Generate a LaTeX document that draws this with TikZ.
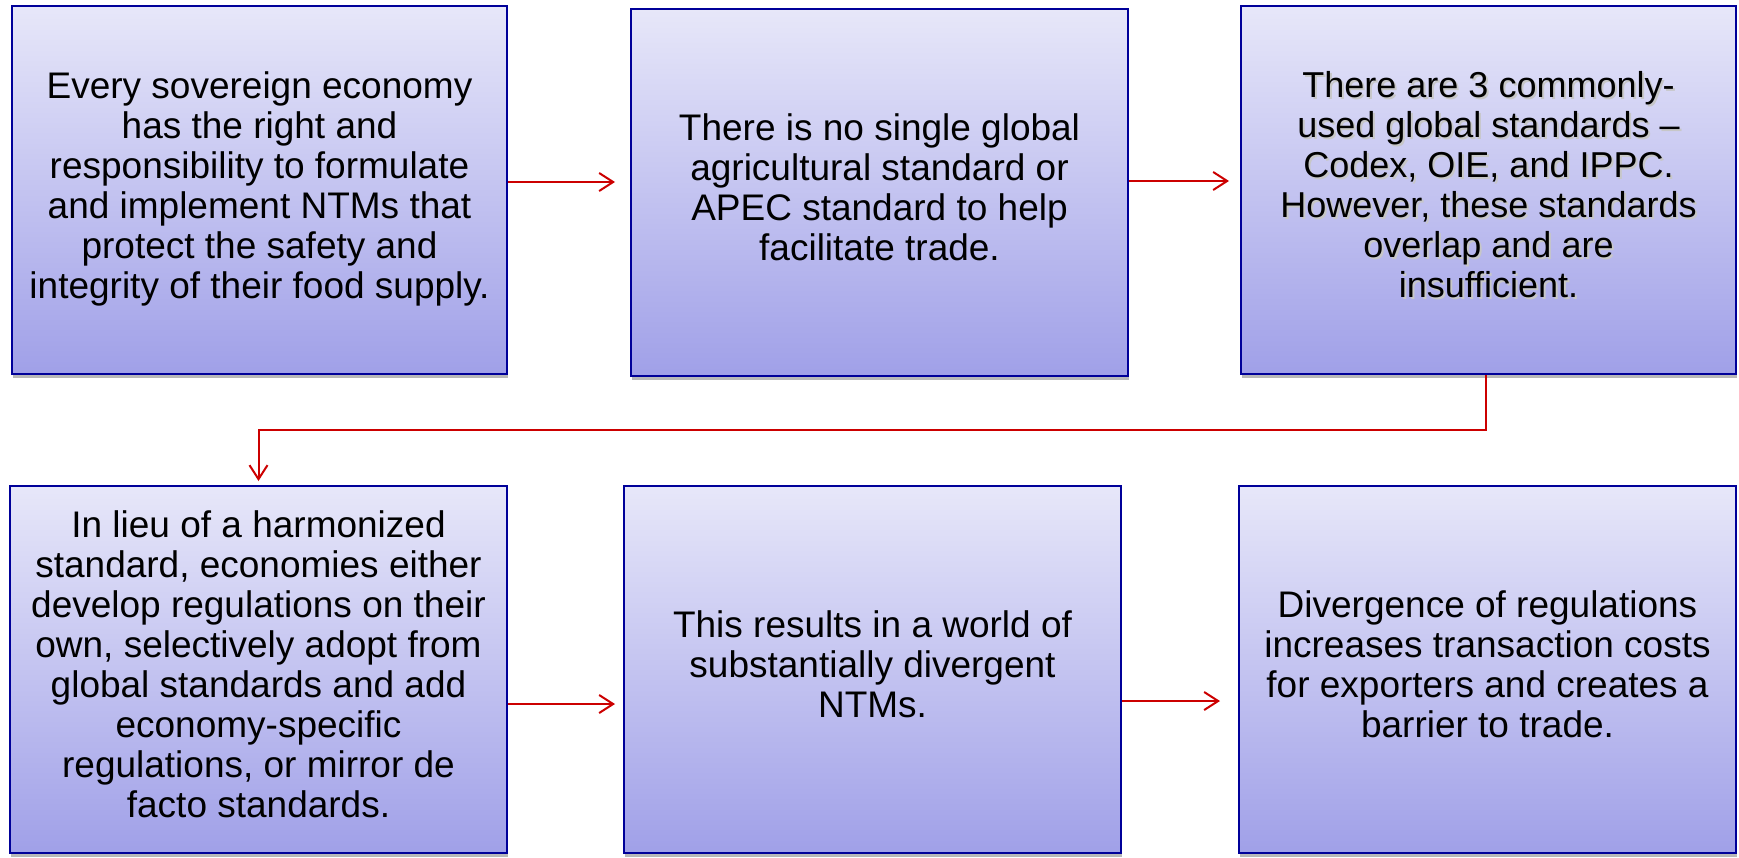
\documentclass[tikz,border=0pt]{standalone}
\usepackage{fontspec}
\setmainfont{Liberation Sans}
\usetikzlibrary{arrows.meta,shadows}
\definecolor{boxtop}{RGB}{231,231,249}
\definecolor{boxbot}{RGB}{160,160,232}
\definecolor{boxline}{RGB}{0,0,153}
\definecolor{arrred}{RGB}{204,0,0}
\newcommand\txtblock[1]{\begin{tabular}{@{}c@{}}#1\end{tabular}}
\newcommand\shadowblock[1]{\leavevmode\rlap{\hspace*{1pt}\raisebox{-1pt}{\color{black!22}\txtblock{#1}}}\txtblock{#1}}
\tikzset{
  stepbox/.style={draw=boxline, line width=1pt, top color=boxtop, bottom color=boxbot,
    inner sep=0pt, align=center,
    drop shadow={shadow xshift=0.6pt, shadow yshift=-2pt, fill=black!28, opacity=1},
    font=\fontsize{18.5}{20}\selectfont},
  wbox/.style={stepbox, minimum width=248.5pt, minimum height=183.5pt},
  nbox/.style={stepbox, minimum width=247.5pt, minimum height=184pt},
  arr/.style={draw=arrred, line width=1pt, -{Straight Barb[length=7pt,width=9pt]}}
}
\begin{document}
\begin{tikzpicture}[x=0.5pt,y=-0.5pt]
\useasboundingbox (0,0) rectangle (1739,857);
\node[nbox] (b1) at (259.5,190) {\txtblock{Every sovereign economy\\has the right and\\responsibility to formulate\\and implement NTMs that\\protect the safety and\\integrity of their food supply.}};
\node[wbox] (b2) at (879.5,192.5) {\txtblock{There is no single global\\agricultural standard or\\APEC standard to help\\facilitate trade.}};
\node[nbox, font=\fontsize{18}{20}\selectfont] (b3) at (1488.5,190) {\shadowblock{There are 3 commonly-\\used global standards --\\Codex, OIE, and IPPC.\\However, these standards\\overlap and are\\insufficient.}};
\node[wbox] (b4) at (258.5,669.5) {\txtblock{In lieu of a harmonized\\standard, economies either\\develop regulations on their\\own, selectively adopt from\\global standards and add\\economy-specific\\regulations, or mirror de\\facto standards.}};
\node[wbox] (b5) at (872.5,669.5) {\txtblock{This results in a world of\\substantially divergent\\NTMs.}};
\node[wbox] (b6) at (1487.5,669.5) {\txtblock{Divergence of regulations\\increases transaction costs\\for exporters and creates a\\barrier to trade.}};
\draw[arr] ([yshift=4pt]b1.east) -- ([xshift=-7.5pt,yshift=5.25pt]b2.west);
\draw[arr] ([yshift=5.75pt]b2.east) -- ([xshift=-5.5pt,yshift=4.5pt]b3.west);
\draw[arr, shorten >=2pt] ([xshift=-1.25pt]b3.south) -- ++(0,55) -| (b4.north);
\draw[arr] ([yshift=-17.25pt]b4.east) -- ([xshift=-4pt,yshift=-17.25pt]b5.west);
\draw[arr] ([yshift=-15.75pt]b5.east) -- ([xshift=-9pt,yshift=-15.75pt]b6.west);
\end{tikzpicture}
\end{document}
